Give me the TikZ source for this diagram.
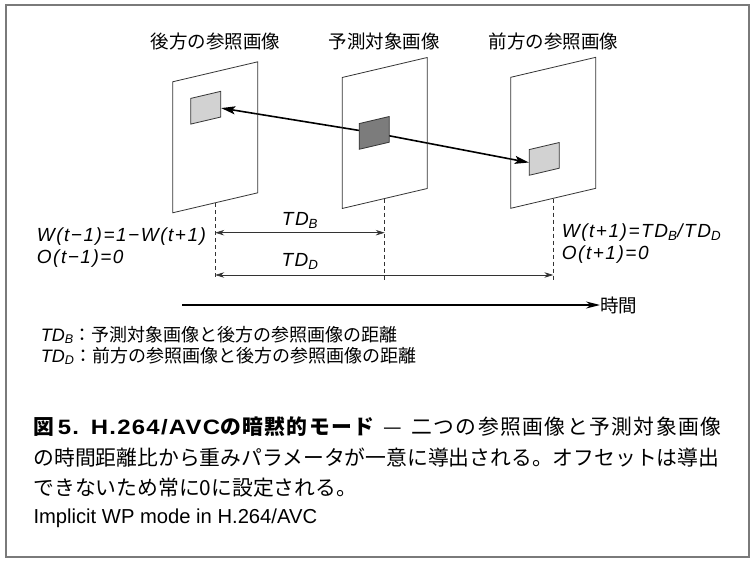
\documentclass[tikz,border=0pt]{standalone}
\usepackage{fontspec}
\usepackage{tikz}
\usetikzlibrary{arrows.meta,positioning,backgrounds}
\newfontfamily\jpfont{Noto Sans CJK JP}
\newfontfamily\jpwide[LetterSpace=7]{Noto Sans CJK JP}
\newfontfamily\eqfont[LetterSpace=8]{Liberation Sans}
\newfontfamily\enfont{Liberation Sans}
\newfontfamily\capfont[FakeStretch=1.15,LetterSpace=6]{Liberation Sans}
\definecolor{frmgray}{HTML}{7A7A7A}
\definecolor{blklight}{HTML}{D2D2D2}
\definecolor{blkdark}{HTML}{7C7C7C}
\definecolor{inkgray}{HTML}{333333}

\begin{document}
\begin{tikzpicture}[
  x=1pt,y=-1pt,
  picframe/.style={draw=inkgray,line width=0.8pt,minimum width=85pt,minimum height=131pt,
                   inner sep=0pt,yslant=0.235},
  blk/.style={draw=inkgray,line width=0.8pt,minimum width=30pt,minimum height=25.7pt,
              inner sep=0pt,yslant=0.235},
  ttl/.style={font=\jpfont\fontsize{18.5}{20}\selectfont,inner sep=0pt},
  eqn/.style={font=\eqfont\itshape\fontsize{19}{22}\selectfont,align=left,inner sep=0pt,
              anchor=west},
  guide/.style={draw=inkgray,line width=0.6pt,dash pattern=on 4pt off 3pt},
  dimarr/.style={{Stealth[length=9pt,width=5.5pt]}-{Stealth[length=9pt,width=5.5pt]},
                 line width=0.7pt,draw=inkgray},
  mv/.style={-{Stealth[length=14pt,width=8pt,inset=3pt]},line width=1.6pt},
  timearr/.style={-{Stealth[length=14pt,width=7pt]},line width=1.6pt},
  legend/.style={font=\jpfont\fontsize{18}{21}\selectfont,align=left,inner sep=0pt,anchor=west},
  capt/.style={font=\jpfont\fontsize{20.8}{30.3}\selectfont,text width=688pt,align=left,
               inner sep=0pt,anchor=west},
  engl/.style={font=\enfont\fontsize{20.2}{23}\selectfont,inner sep=0pt,anchor=west}
]
\useasboundingbox (0,0) rectangle (754,564);
\draw[frmgray,line width=1.7pt] (6,5) rectangle (749,557);

% pictures
\node[picframe] (bwdpic) at (215.2,137.3) {};
\node[picframe] (curpic) at (384.7,133) {};
\node[picframe] (fwdpic) at (553.3,132.8) {};
\node[ttl] (bwdttl) at (215.5,41.7) {後方の参照画像};
\node[ttl] (curttl) at (384,41.7) {予測対象画像};
\node[ttl] (fwdttl) at (553.3,41.7) {前方の参照画像};

% blocks
\node[blk,fill=blklight] (bwdblk) at (205.8,107.7) {};
\node[blk,fill=blkdark] (curblk) at (374.2,132.9) {};
\node[blk,fill=blklight] (fwdblk) at (544.2,158.9) {};
\begin{scope}[on background layer]
\draw[mv] (curblk.center) -- ([yshift=-4pt]bwdblk.east);
\draw[mv] (curblk.center) -- (fwdblk.west);
\end{scope}

% distances
\coordinate (guideend) at (0,280);
\coordinate (tdbrow) at (0,232.7);
\coordinate (tddrow) at (0,275);
\draw[guide] (bwdpic.south) -- (bwdpic.south |- guideend);
\draw[guide] (curpic.south) -- (curpic.south |- guideend);
\draw[guide] (fwdpic.south) -- (fwdpic.south |- guideend);
\draw[dimarr] (bwdpic.south |- tdbrow) -- (curpic.south |- tdbrow);
\draw[dimarr] (bwdpic.south |- tddrow) -- (fwdpic.south |- tddrow);
\node[eqn,anchor=center] (tdblbl) at (300,220.7) {TD\textsubscript{B}};
\node[eqn,anchor=center] (tddlbl) at (300,261.7) {TD\textsubscript{D}};
\node[eqn] (bwdeq) at (36.7,247.5) {W(t−1)=1−W(t+1)\\O(t−1)=0};
\node[eqn] (fwdeq) at (561.7,243.8) {W(t+1)=TD\textsubscript{B}/TD\textsubscript{D}\\O(t+1)=0};

% time axis
\coordinate (tstart) at (182.3,305);
\node[ttl,anchor=west] (timelbl) at (600,305) {時間};
\draw[timearr] (tstart) -- (timelbl.west);

% legend and caption
\node[legend] (legend) at (40.7,345.5)
  {{\enfont\itshape TD\textsubscript{B}}：予測対象画像と後方の参照画像の距離\\
   {\enfont\itshape TD\textsubscript{D}}：前方の参照画像と後方の参照画像の距離};
\node[capt] (caption) at (33.3,457)
  {\makebox[688pt][l]{\jpwide{\bfseries 図}\,{\capfont\bfseries 5.}\hspace{12pt}{\capfont\bfseries
     H.264/AVC}{\bfseries の暗黙的モード}\hspace{2pt plus 1fill}—\hspace{2pt plus 1fill}二つの参照画像と予測対象画像}\\
   の時間距離比から重みパラメータが一意に導出される。オフセットは導出\\
   できないため常に0に設定される。};
\node[engl] (engcap) at (33.3,518.3) {Implicit WP mode in H.264/AVC};
\end{tikzpicture}
\end{document}
